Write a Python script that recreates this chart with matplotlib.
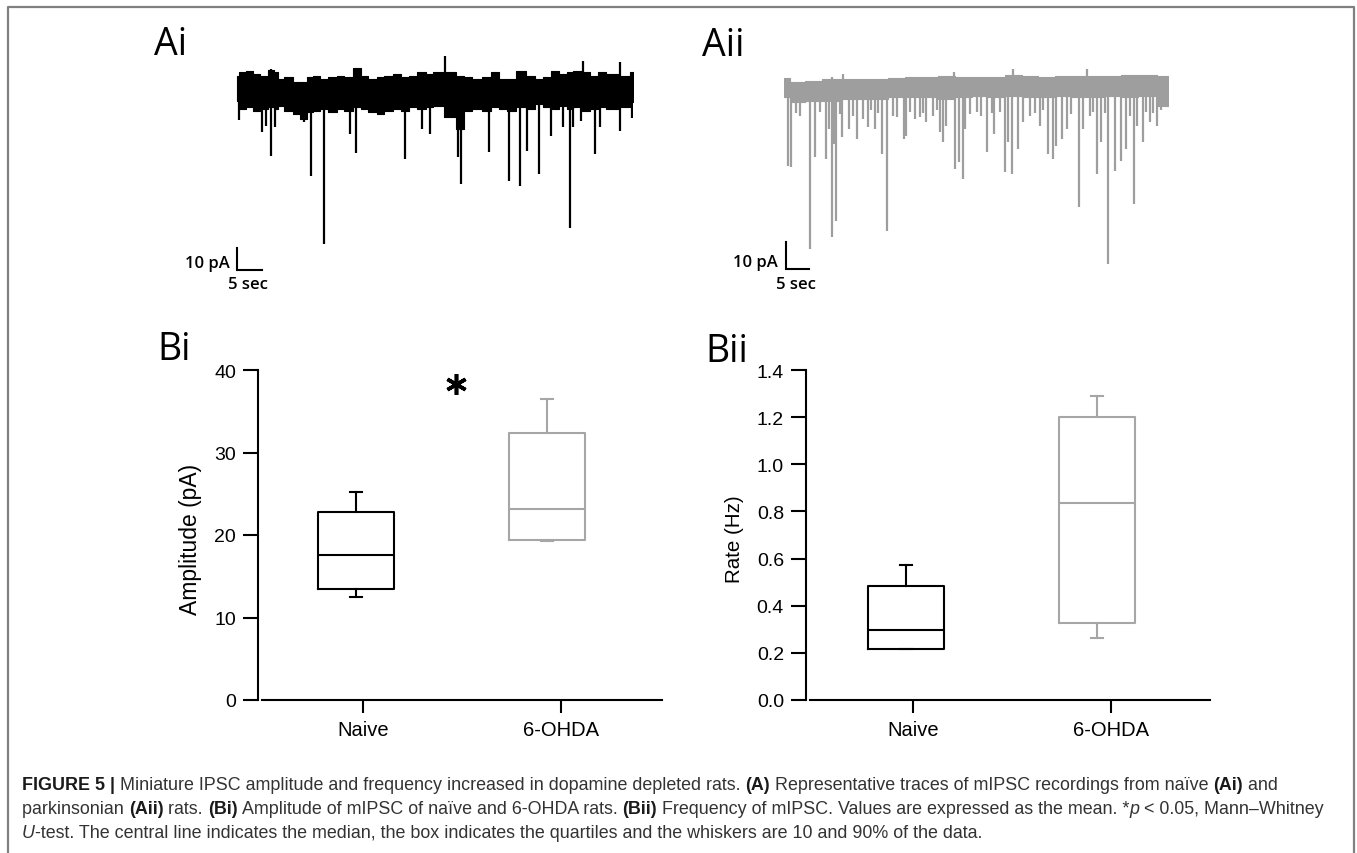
import matplotlib
matplotlib.use("Agg")
import matplotlib.pyplot as plt
from matplotlib.lines import Line2D
from matplotlib.font_manager import FontProperties

W, H = 1357, 854
DPI = 100

# ---------------- data ----------------
groups = ["Naive", "6-OHDA"]

amp_whislo = [12.5, 19.3]
amp_q1 = [13.4, 19.4]
amp_med = [17.6, 23.1]
amp_q3 = [22.8, 32.4]
amp_whishi = [25.2, 36.5]
amp_ticks = [0, 10, 20, 30, 40]

rate_whislo = [0.215, 0.265]
rate_q1 = [0.216, 0.326]
rate_med = [0.295, 0.835]
rate_q3 = [0.485, 1.199]
rate_whishi = [0.574, 1.29]
rate_ticks = [0.0, 0.2, 0.4, 0.6, 0.8, 1.0, 1.2, 1.4]

# trace Ai (naive): noise band envelope (s, pA) and events (s, pA)
ai_env_t = [0.13, 1.13, 2.8, 4.13, 5.47, 7.13, 8.13, 8.8, 10.47, 12.13, 13.47, 14.8,
            16.13, 17.47, 19.47, 20.8, 22.47, 24.47, 25.47, 27.47, 28.8, 30.47, 32.13,
            33.8, 35.47, 37.13, 38.8, 40.13, 43.13, 44.8, 46.47, 48.13, 50.13, 51.8,
            53.47, 54.8, 57.13, 58.8, 60.8, 62.13, 63.8, 65.47, 66.8, 68.13, 70.13,
            71.47, 73.13, 74.8, 78.13, 79.33]
ai_env_hi = [6.97, 8.48, 9.24, 7.73, 6.97, 9.7, 8.48, 5.45, 6.2, 3.94, 3.94, 6.2,
             6.97, 5.45, 6.2, 6.97, 6.2, 10.3, 6.97, 5.45, 6.2, 6.97, 7.73,
             6.2, 6.97, 8.48, 7.73, 8.48, 8.48, 6.97, 6.2, 5.45, 6.2, 8.48,
             5.45, 5.45, 9.24, 6.97, 5.45, 6.2, 9.24, 7.73, 8.48, 9.24, 8.48,
             6.97, 8.48, 7.73, 6.97, 8.48]
ai_env_lo = [-4.4, -8.2, -7.4, -8.9, -8.2, -7.4, -8.2, -6.7, -8.9, -10.5, -12.7, -9.7,
             -8.9, -8.2, -9.7, -8.2, -8.9, -7.4, -8.2, -9.7, -10.5, -8.9, -8.2,
             -8.9, -7.4, -8.2, -7.4, -6.7, -12.0, -17.3, -8.9, -8.2, -8.9, -7.4,
             -8.2, -8.9, -7.4, -8.2, -5.9, -7.4, -8.2, -6.7, -8.2, -7.4, -8.9,
             -8.2, -7.4, -8.2, -7.4, -5.2]
ai_evt_t = [0.67, 5.13, 6.0, 7.0, 7.8, 13.5, 15.0, 17.67, 22.8, 23.93, 33.8, 37.13,
            38.8, 44.47, 45.0, 50.6, 54.67, 56.8, 58.27, 60.67, 63.0, 65.47, 66.8,
            67.47, 68.93, 71.8, 72.8, 76.8, 79.27,
            41.8, 69.33, 76.8, 24.27, 6.93, 57.1, 64.1]
ai_evt_amp = [-13.0, -18.8, -15.8, -29.4, -16.5, -14.2, -38.5, -69.5, -19.5, -28.2,
              -30.9, -17.3, -19.5, -30.2, -42.3, -27.6, -40.8, -43.3, -27.4, -37.7,
              -20.6, -16.5, -62.3, -16.5, -13.5, -28.6, -16.5, -18.0, -12.4,
              16.0, 13.8, 13.0, 10.3, 10.0, 9.2, 9.2]

# trace Aii (6-OHDA)
aii_env_t = [0.0, 2.6, 6.2, 9.8, 13.4, 16.9, 20.5, 24.1, 27.7, 31.2, 34.8, 38.4,
             42.0, 45.5, 49.1, 52.7, 56.3, 59.8, 63.4, 67.0, 70.6, 74.1, 77.7, 82.4]
aii_env_hi = [4.0, 2.5, 3.1, 3.8, 3.8, 3.8, 3.8, 4.0, 4.4, 4.6, 5.0, 4.6,
              4.4, 4.6, 5.3, 5.0, 4.6, 5.0, 5.0, 5.0, 5.0, 5.3, 5.3, 5.0]
aii_env_lo = [-3.1, -5.0, -4.4, -4.4, -3.8, -3.8, -3.8, -3.1, -3.1, -3.1, -3.8, -3.1,
              -2.5, -3.1, -2.5, -3.1, -3.1, -2.5, -3.1, -3.1, -2.5, -3.1, -2.5, -6.3]
aii_evt_t = [0.86, 1.43, 5.5, 6.58, 8.87, 9.58, 10.2, 10.7, 11.2, 12.4, 13.9, 15.5,
             16.8, 17.9, 19.4, 21.0, 22.1, 23.4, 25.7, 26.2, 28.0, 29.1, 30.5, 33.4,
             34.1, 34.8, 36.6, 37.5, 38.3, 38.8, 43.4, 45.0, 47.3, 48.1, 48.8, 50.2,
             51.3, 54.8, 56.6, 57.7, 58.4, 59.5, 60.6, 63.3, 64.1, 67.0, 67.9, 69.5,
             70.9, 72.2, 73.4, 75.1, 75.6, 76.9, 78.4, 80.0, 82.0,
             2.6, 3.4, 7.7, 11.9, 14.8, 18.7, 20.2, 24.1, 27.0, 29.8, 32.0, 32.7,
             39.8, 41.3, 42.3, 44.5, 46.3, 52.7, 53.8, 55.6, 61.6, 65.6, 66.3, 68.8,
             74.1, 77.7, 79.2, 80.9,
             10.2, 12.7, 36.4, 49.1, 65.0]
aii_evt_amp = [-28.8, -29.4, -60.0, -25.6, -26.3, -15.0, -55.6, -20.6, -49.4, -18.1,
               -15.0, -18.8, -11.3, -14.4, -15.0, -24.4, -53.1, -10.0, -18.8, -17.5,
               -11.3, -10.6, -12.5, -16.3, -20.0, -13.8, -30.0, -27.5, -33.8, -15.0,
               -23.5, -16.9, -31.3, -20.0, -31.9, -22.5, -12.5, -13.8, -24.4, -26.3,
               -21.3, -18.8, -15.0, -44.4, -15.0, -31.9, -20.0, -65.6, -30.6, -26.9,
               -22.5, -43.1, -13.8, -20.0, -12.5, -13.8, -6.3,
               -9.0, -10.0, -8.5, -9.5, -10.0, -8.0, -9.0, -10.5, -8.5, -9.0, -10.0, -8.0,
               -9.5, -8.5, -10.0, -9.0, -8.5, -10.0, -9.0, -8.0, -9.5, -10.0, -8.5, -9.0,
               -10.0, -8.5, -9.0, -8.0,
               4.4, 5.6, 6.5, 7.3, 7.3]

BLACK = "#000000"
GREY_BOX = "#a6a6a6"
GREY_TRACE = "#9e9e9e"

plt.rcParams['font.family'] = ['Liberation Sans', 'DejaVu Sans']

fig = plt.figure(figsize=(W / DPI, H / DPI), dpi=DPI)


def rect(l, t, r, b):
    return [l / W, 1 - b / H, (r - l) / W, (b - t) / H]


def fig_text(xp, yp, s, **kw):
    return fig.text(xp / W, 1 - yp / H, s, **kw)


# ---------------- frame ----------------
fig.add_artist(Line2D([8 / W, 8 / W, 1354 / W, 1354 / W], [0, 1 - 8 / H, 1 - 8 / H, 0],
                      transform=fig.transFigure, color="#808080", lw=1.6))

# ---------------- traces ----------------
def draw_trace(r, xlim, ylim, et, ehi, elo, evt_t, evt_amp, color, step, bar_t0, bar_y0,
               lab_t, lab_y, sec_t, sec_y):
    ax = fig.add_axes(r)
    ax.set_xlim(*xlim)
    ax.set_ylim(*ylim)
    ax.axis("off")
    ax.fill_between(et, elo, ehi, color=color, lw=0.8, edgecolor=color, step=step)
    ax.vlines(evt_t, [0] * len(evt_t), evt_amp, color=color, lw=1.6)
    # scale bar: 10 pA, 5 sec
    ax.plot([bar_t0, bar_t0, bar_t0 + 5], [bar_y0 + 10, bar_y0, bar_y0], color="black",
            lw=1.5, clip_on=False, solid_joinstyle="miter")
    ax.text(lab_t, lab_y, "10 pA", ha="right", va="center", fontsize=12,
            family="Open Sans", weight="semibold", clip_on=False)
    ax.text(sec_t, sec_y, "5 sec", ha="left", va="top", fontsize=12,
            family="Open Sans", weight="semibold", clip_on=False)
    return ax


draw_trace(rect(236, 40, 633, 300), (0, 79.4), (-94.5, 23.6),
           ai_env_t, ai_env_hi, ai_env_lo, ai_evt_t, ai_evt_amp, BLACK, "mid",
           0.2, -81.4, -1.2, -78.0, -1.6, -84.0)
draw_trace(rect(784.3, 40, 1168.3, 300), (0, 82.4), (-78.7, 18.7),
           aii_env_t, aii_env_hi, aii_env_lo, aii_evt_t, aii_evt_amp, GREY_TRACE, "mid",
           0.36, -67.4, -1.35, -65.0, -1.7, -70.0)

# ---------------- panel labels ----------------
for xp, yp, s in [(154, 55, "Ai"), (702, 56, "Aii"), (157, 360, "Bi"), (705, 362, "Bii")]:
    fig_text(xp, yp, s, fontsize=27, family="Open Sans", va="baseline", ha="left")

# ---------------- box plots ----------------
box_pos = [-0.035, 0.93]


def draw_box(r, xlim, ylim, ticks, tick_fmt, ylabel, ylabel_size, ylab_x,
             whislo, q1, med, q3, whishi):
    ax = fig.add_axes(r)
    for i, c in enumerate([BLACK, GREY_BOX]):
        st = [dict(whislo=whislo[i], q1=q1[i], med=med[i], q3=q3[i], whishi=whishi[i])]
        props = dict(color=c, lw=1.5)
        ax.bxp(st, positions=[box_pos[i]], widths=0.385, capwidths=0.06,
               showfliers=False, manage_ticks=False,
               boxprops=props, whiskerprops=props, capprops=props,
               medianprops=props)
    ax.set_xlim(*xlim)
    ax.set_ylim(*ylim)
    ax.set_yticks(ticks)
    ax.set_yticklabels([tick_fmt.format(v) for v in ticks])
    ax.set_xticks([0, 1])
    ax.set_xticklabels(groups)
    for s in ["top", "right"]:
        ax.spines[s].set_visible(False)
    for s in ["left", "bottom"]:
        ax.spines[s].set_linewidth(1.5)
    ax.spines["left"].set_position(("outward", 3))
    ax.tick_params(axis="y", length=10.8, width=1.5, pad=5, labelsize=14)
    ax.tick_params(axis="x", length=9.4, width=1.5, pad=5, labelsize=14.5)
    ax.set_ylabel(ylabel, fontsize=ylabel_size, va="center")
    ax.yaxis.set_label_coords(ylab_x, 0.49)
    return ax


axb1 = draw_box(rect(262, 371, 662, 701), (-0.510, 1.510), (0, 40), amp_ticks, "{:.0f}",
                "Amplitude (pA)", 16.5, -0.1775,
                amp_whislo, amp_q1, amp_med, amp_q3, amp_whishi)
axb2 = draw_box(rect(810, 371, 1210, 701), (-0.520, 1.500), (0, 1.4), rate_ticks, "{:.1f}",
                "Rate (Hz)", 14.8, -0.1875,
                rate_whislo, rate_q1, rate_med, rate_q3, rate_whishi)

# significance asterisk
axb1.plot([0.47], [38.3], marker=(6, 2, 0), markersize=15, mew=2.6, color="black",
          clip_on=False)

# ---------------- caption ----------------
renderer = fig.canvas.get_renderer()
CAP_SIZE = 12.9
CAP_COLOR = "#333333"


def seg_width(txt, prop):
    w1, _, _ = renderer.get_text_width_height_descent("|" + txt + "|", prop, ismath=False)
    w0, _, _ = renderer.get_text_width_height_descent("||", prop, ismath=False)
    return w1 - w0


def rich_line(x_px, y_px, segs):
    x = x_px
    for txt, style in segs:
        kw = dict(family="Liberation Sans", size=CAP_SIZE)
        if style == "b":
            kw["weight"] = "bold"
        if style == "i":
            kw["style"] = "italic"
        prop = FontProperties(**kw)
        color = "#1a1a1a" if style == "b" else CAP_COLOR
        fig.text(x / W, 1 - y_px / H, txt, fontproperties=prop, color=color,
                 va="baseline", ha="left")
        x += seg_width(txt, prop)


rich_line(22, 790.5, [
    ("FIGURE 5 |", "b"),
    (" Miniature IPSC amplitude and frequency increased in dopamine depleted rats. ", "n"),
    ("(A)", "b"),
    (" Representative traces of mIPSC recordings from naïve ", "n"),
    ("(Ai)", "b"),
    (" and", "n"),
])
rich_line(22, 814.5, [
    ("parkinsonian ", "n"),
    ("(Aii)", "b"),
    (" rats. ", "n"),
    ("(Bi)", "b"),
    (" Amplitude of mIPSC of naïve and 6-OHDA rats. ", "n"),
    ("(Bii)", "b"),
    (" Frequency of mIPSC. Values are expressed as the mean. *", "n"),
    ("p", "i"),
    (" < 0.05, Mann–Whitney", "n"),
])
rich_line(22, 838.5, [
    ("U", "i"),
    ("-test. The central line indicates the median, the box indicates the quartiles "
     "and the whiskers are 10 and 90% of the data.", "n"),
])

fig.savefig("out.png", dpi=DPI)
